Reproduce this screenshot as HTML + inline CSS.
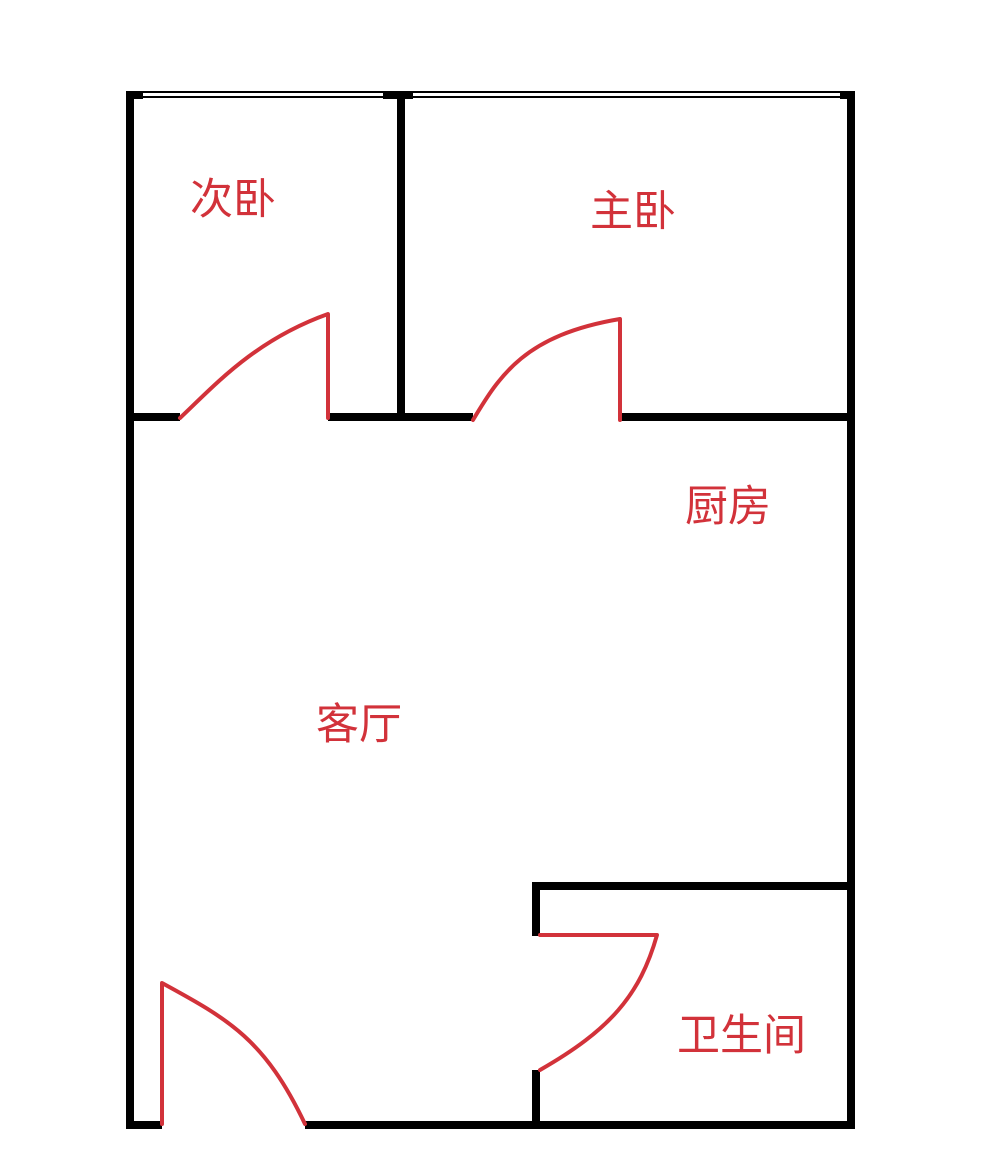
<!DOCTYPE html>
<html><head><meta charset="utf-8"><style>
html,body{margin:0;padding:0;background:#fff;}
svg{display:block;}
text{font-family:"Liberation Sans","Noto Sans CJK SC",sans-serif;fill:#d2323a;font-size:43px;}
</style></head><body>
<svg width="1000" height="1169" viewBox="0 0 1000 1169" xmlns="http://www.w3.org/2000/svg">
<rect width="1000" height="1169" fill="#fff"/>
<g fill="#000">
<rect x="126" y="91" width="8" height="1038"/>
<rect x="847" y="91" width="8" height="1038"/>
<rect x="126" y="91" width="17" height="8"/>
<rect x="383" y="91" width="30" height="8"/>
<rect x="840" y="91" width="15" height="8"/>
<rect x="143" y="91" width="240" height="2"/>
<rect x="143" y="96" width="240" height="2"/>
<rect x="413" y="91" width="427" height="2"/>
<rect x="413" y="96" width="427" height="2"/>
<rect x="397" y="91" width="8" height="330"/>
<rect x="126" y="413" width="54" height="8"/>
<rect x="328" y="413" width="145" height="8"/>
<rect x="621" y="413" width="234" height="8"/>
<rect x="126" y="1121" width="36" height="8"/>
<rect x="305" y="1121" width="550" height="8"/>
<rect x="532" y="882" width="323" height="8"/>
<rect x="532" y="882" width="8" height="54"/>
<rect x="532" y="1070" width="8" height="59"/>
</g>
<g fill="none" stroke="#d2323a" stroke-width="4" stroke-linejoin="round" stroke-linecap="round">
<path d="M180 418 C215 385 255 340 328 314 L328 418"/>
<path d="M473 420 C500 375 525 335 620 319 L620 420"/>
<path d="M540 935 L657 935 C640 995 610 1030 540 1070"/>
<path d="M162 1124 L162 983 C230 1020 265 1040 305 1124"/>
</g>
<text x="190" y="214">次卧</text>
<text x="590" y="226">主卧</text>
<text x="685" y="521">厨房</text>
<text x="316" y="739">客厅</text>
<text x="677" y="1050">卫生间</text>
</svg>
</body></html>
